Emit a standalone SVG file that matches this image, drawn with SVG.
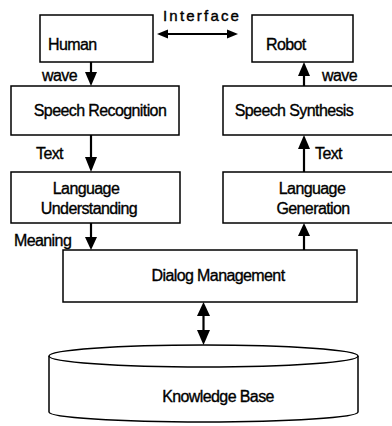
<svg xmlns="http://www.w3.org/2000/svg" width="392" height="426" viewBox="0 0 392 426">
<defs>
<style>
.box{fill:#fff;stroke:#000;stroke-width:1.5}
.t{font-family:"Liberation Sans",Arial,sans-serif;font-size:16px;letter-spacing:-0.6px;fill:#000;stroke:#000;stroke-width:0.35;text-anchor:middle}
.l{font-family:"Liberation Sans",Arial,sans-serif;font-size:16px;letter-spacing:-0.6px;fill:#000;stroke:#000;stroke-width:0.35}
.ln{stroke:#000;stroke-width:2.2;fill:none}
.hd{fill:#000}
</style>
</defs>
<rect width="392" height="426" fill="#fff"/>
<g id="human"><rect class="box" x="40" y="15" width="113" height="47"/><text class="l" x="48" y="50">Human</text></g>
<g id="robot"><rect class="box" x="252" y="15" width="101" height="47"/><text class="l" x="266" y="50">Robot</text></g>
<g id="speech-recognition"><rect class="box" x="11" y="86" width="168" height="49"/><text class="t" x="100" y="116">Speech Recognition</text></g>
<g id="speech-synthesis"><rect class="box" x="223" y="86" width="175" height="49"/><text class="t" x="294" y="116">Speech Synthesis</text></g>
<g id="language-understanding"><rect class="box" x="11" y="172" width="169" height="51"/><text class="t" x="86" y="194">Language</text><text class="t" x="89" y="214">Understanding</text></g>
<g id="language-generation"><rect class="box" x="223" y="172" width="175" height="51"/><text class="t" x="312" y="194">Language</text><text class="t" x="313" y="214">Generation</text></g>
<g id="dialog-management"><rect class="box" x="63" y="250" width="294" height="52"/><text class="t" x="218" y="281">Dialog Management</text></g>
<g id="knowledge-base">
<path class="box" d="M49,356 L49,412 A154.5,10 0 0 0 358,412 L358,356"/>
<ellipse class="box" cx="203.5" cy="356" rx="154.5" ry="11"/>
<text class="t" x="218" y="402">Knowledge Base</text>
</g>
<g id="connectors">
<text x="163" y="21" style="font-family:'Liberation Sans',Arial,sans-serif;font-size:15px;letter-spacing:2.2px;fill:#000;stroke:#000;stroke-width:0.4">Interface</text>
<line class="ln" x1="166" y1="34" x2="229" y2="34"/>
<polygon class="hd" points="157,34 168,29.5 168,38.5"/>
<polygon class="hd" points="238,34 227,29.5 227,38.5"/>
<line class="ln" x1="91" y1="62" x2="91" y2="74"/>
<polygon class="hd" points="91,86 85,72 97,72"/>
<text class="l" x="42" y="81">wave</text>
<line class="ln" x1="304" y1="86" x2="304" y2="72"/>
<polygon class="hd" points="304,62 298,76 310,76"/>
<text class="l" x="322" y="81">wave</text>
<line class="ln" x1="91" y1="135" x2="91" y2="160"/>
<polygon class="hd" points="91,172 85,157 97,157"/>
<text class="l" x="36" y="159">Text</text>
<line class="ln" x1="304" y1="172" x2="304" y2="146"/>
<polygon class="hd" points="304,135 298,149 310,149"/>
<text class="l" x="315" y="159">Text</text>
<line class="ln" x1="91" y1="223" x2="91" y2="240"/>
<polygon class="hd" points="91,250 85,237 97,237"/>
<text class="l" x="14" y="246">Meaning</text>
<line class="ln" x1="304" y1="250" x2="304" y2="234"/>
<polygon class="hd" points="304,223 298,236 310,236"/>
<line class="ln" x1="203.5" y1="312" x2="203.5" y2="335"/>
<polygon class="hd" points="203.5,302 197,316 210,316"/>
<polygon class="hd" points="203.5,345 197,330 210,330"/>
</g>
</svg>
